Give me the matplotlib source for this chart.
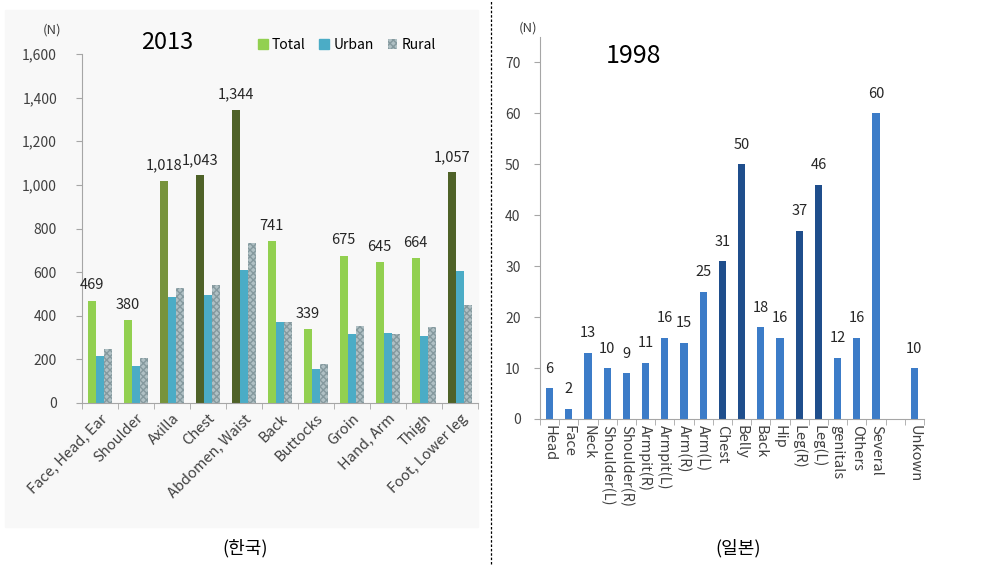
import numpy as np
import matplotlib
matplotlib.use("Agg")
import matplotlib.pyplot as plt
from matplotlib.patches import Patch

plt.rcParams['font.family'] = ['Noto Sans CJK KR', 'DejaVu Sans']

# 2013 (Korea)
kr_cats = ['Face, Head, Ear', 'Shoulder', 'Axilla', 'Chest', 'Abdomen, Waist',
           'Back', 'Buttocks', 'Groin', 'Hand, Arm', 'Thigh', 'Foot, Lower leg']
kr_total = [469, 380, 1018, 1043, 1344, 741, 339, 675, 645, 664, 1057]
kr_urban = [215, 170, 485, 495, 612, 370, 155, 318, 323, 308, 605]
kr_rural = [248, 205, 527, 540, 733, 370, 180, 355, 318, 350, 448]
kr_total_colors = ['#92d050', '#92d050', '#77933c', '#4f6228', '#4f6228', '#92d050',
                   '#92d050', '#92d050', '#92d050', '#92d050', '#4f6228']

# 1998 (Japan)
jp_cats = ['Head', 'Face', 'Neck', 'Shoulder(L)', 'Shoulder(R)', 'Armpit(R)', 'Armpit(L)',
           'Arm(R)', 'Arm(L)', 'Chest', 'Belly', 'Back', 'Hip', 'Leg(R)', 'Leg(L)',
           'genitals', 'Others', 'Several', '', 'Unkown']
jp_vals = [6, 2, 13, 10, 9, 11, 16, 15, 25, 31, 50, 18, 16, 37, 46, 12, 16, 60, None, 10]
jp_dark = ['Chest', 'Belly', 'Leg(R)', 'Leg(L)']

fig = plt.figure(figsize=(9.83, 5.67), dpi=100)
W, H = 983, 567

# light background of left panel
fig.patches.append(plt.Rectangle((5 / W, 1 - 527 / H), 473 / W, 517 / H,
                                 transform=fig.transFigure, color='#f8f8f8', zorder=-5))
# dashed divider
fig.add_artist(plt.Line2D([491 / W, 491 / W], [0.005, 1.0], transform=fig.transFigure,
                          color='black', lw=0.9, ls=(0, (2, 1.5))))

axis_col = '#a6a6a6'
txt_col = '#404040'

# ---------- left chart ----------
ax1 = fig.add_axes([82 / W, 1 - 403 / H, 396 / W, 349 / H])
ax1.patch.set_alpha(0)
x = np.arange(len(kr_cats))
bw = 0.23
ax1.bar(x - bw, kr_total, bw, color=kr_total_colors, zorder=2)
ax1.bar(x, kr_urban, bw, color='#4bacc6', zorder=2)
ax1.bar(x + bw, kr_rural, bw, color='#b0c0c4', hatch='xxxxx', edgecolor='#85999e',
        linewidth=0, zorder=2)
for xi, v in zip(x, kr_total):
    ax1.annotate(f'{v:,}', (xi - bw, v), xytext=(0, 6), textcoords='offset points',
                 ha='center', va='bottom', fontsize=10.5, color='#262626')
ax1.set_xlim(-0.5, len(kr_cats) - 0.5)
ax1.set_ylim(0, 1600)
ax1.set_yticks(range(0, 1601, 200))
ax1.set_yticklabels([f'{t:,}' for t in range(0, 1601, 200)], fontsize=10, color=txt_col)
ax1.set_xticks(x)
ax1.set_xticklabels(kr_cats, rotation=45, ha='right', rotation_mode='anchor',
                    fontsize=10.5, color=txt_col)
ax1.set_xticks(np.arange(-0.5, len(kr_cats), 1), minor=True)
ax1.tick_params(axis='x', which='major', length=0, pad=6)
ax1.tick_params(axis='x', which='minor', length=4, color=axis_col)
ax1.tick_params(axis='y', length=4, color=axis_col, pad=14)
for s in ['top', 'right']:
    ax1.spines[s].set_visible(False)
for s in ['left', 'bottom']:
    ax1.spines[s].set_color(axis_col)
ax1.text(-0.10, 1.06, '(N)', transform=ax1.transAxes, fontsize=9.5, color=txt_col)
ax1.text(0.15, 1.0, '2013', transform=ax1.transAxes, fontsize=17, color='black',
         va='bottom')
handles = [Patch(color='#92d050'), Patch(color='#4bacc6'),
           Patch(facecolor='#b0c0c4', hatch='xxxxx', edgecolor='#85999e', linewidth=0)]
ax1.legend(handles, ['Total', 'Urban', 'Rural'], ncol=3, frameon=False, fontsize=10,
           handlelength=0.7, handleheight=0.7, handletextpad=0.3, columnspacing=1.0,
           loc='lower left', bbox_to_anchor=(0.43, 0.99), borderaxespad=0)

# ---------- right chart ----------
ax2 = fig.add_axes([540 / W, 1 - 419 / H, 384 / W, 382 / H])
xj = np.arange(len(jp_cats))
for xi, c, v in zip(xj, jp_cats, jp_vals):
    if v is None:
        continue
    col = '#1f4e8c' if c in jp_dark else '#3c7cc8'
    ax2.bar(xi, v, 0.38, color=col, zorder=2)
    ax2.annotate(str(v), (xi, v), xytext=(0, 9), textcoords='offset points',
                 ha='center', va='bottom', fontsize=10.5, color='#262626')
ax2.set_xlim(-0.5, len(jp_cats) - 0.5)
ax2.set_ylim(0, 75)
ax2.set_yticks(range(0, 71, 10))
ax2.set_yticklabels([str(t) for t in range(0, 71, 10)], fontsize=10, color=txt_col)
ax2.set_xticks(xj)
ax2.set_xticklabels(jp_cats, rotation=-90, ha='center', va='top', fontsize=10.5,
                    color=txt_col)
ax2.set_xticks(np.arange(-0.5, len(jp_cats), 1), minor=True)
ax2.tick_params(axis='x', which='major', length=0, pad=4)
ax2.tick_params(axis='x', which='minor', length=4, color=axis_col)
ax2.tick_params(axis='y', length=4, color=axis_col, pad=10)
for s in ['top', 'right']:
    ax2.spines[s].set_visible(False)
for s in ['left', 'bottom']:
    ax2.spines[s].set_color(axis_col)
ax2.text(-0.03, 1.015, '(N)', transform=ax2.transAxes, fontsize=9.5, color=txt_col,
         ha='center')
ax2.text(0.17, 0.985, '1998', transform=ax2.transAxes, fontsize=18, color='black',
         va='top')

# captions
fig.text(245 / W, 1 - 548 / H, '(한국)', ha='center', va='center', fontsize=13)
fig.text(738 / W, 1 - 548 / H, '(일본)', ha='center', va='center', fontsize=13)

fig.savefig('out.png', dpi=100, facecolor='white')
